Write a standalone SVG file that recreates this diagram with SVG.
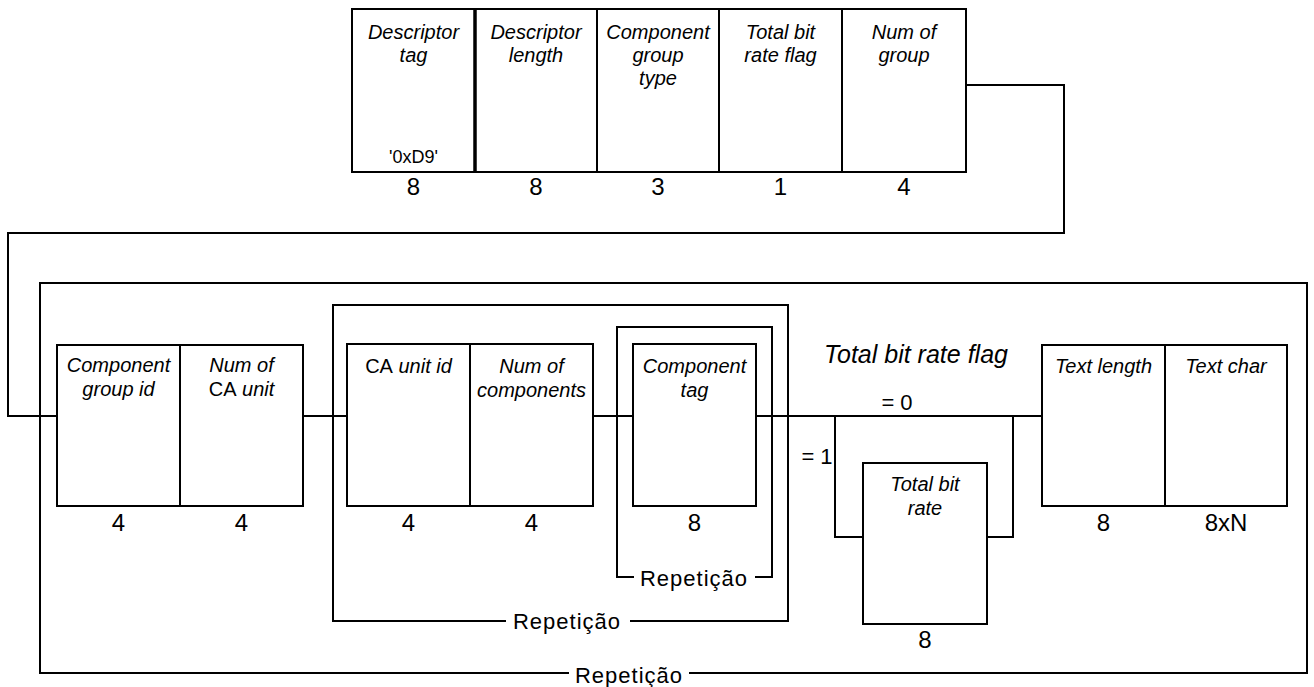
<svg xmlns="http://www.w3.org/2000/svg" width="1314" height="687" viewBox="0 0 1314 687">
<style>
  .box { fill: #fff; stroke: #000; stroke-width: 2; }
  .ln { fill: none; stroke: #000; stroke-width: 2; }
  .lbl { font-family: "Liberation Sans", Arial, sans-serif; font-size: 20px; font-style: italic; text-anchor: middle; fill: #000; }
  .up { font-style: normal; }
  .bits { font-family: "Liberation Sans", Arial, sans-serif; font-size: 24px; text-anchor: middle; fill: #000; }
  .rep { font-family: "Liberation Sans", Arial, sans-serif; font-size: 22px; letter-spacing: 1px; text-anchor: middle; fill: #000; }
  .flag { font-family: "Liberation Sans", Arial, sans-serif; font-size: 25px; font-style: italic; text-anchor: middle; fill: #000; }
  .eq { font-family: "Liberation Sans", Arial, sans-serif; font-size: 22px; text-anchor: middle; fill: #000; }
</style>
<rect width="1314" height="687" fill="#fff"/>

<g id="connectors">
  <polyline class="ln" points="966,85 1064,85 1064,233 8,233 8,416 57,416"/>
  <line class="ln" x1="303" y1="416" x2="347" y2="416"/>
  <line class="ln" x1="593" y1="416" x2="633" y2="416"/>
  <line class="ln" x1="756" y1="416" x2="1042" y2="416"/>
  <polyline class="ln" points="835,416 835,537 863,537"/>
  <polyline class="ln" points="987,537 1013,537 1013,416"/>
</g>

<g id="repeat-outer">
  <polyline class="ln" points="569,673 40,673 40,283 1307,283 1307,673 689,673"/>
  <text class="rep" x="629" y="683">Repetição</text>
</g>
<g id="repeat-middle">
  <polyline class="ln" points="506,621 333,621 333,305 788,305 788,621 630,621"/>
  <text class="rep" x="567" y="629">Repetição</text>
</g>
<g id="repeat-inner">
  <polyline class="ln" points="634,577 617,577 617,327 772,327 772,577 755,577"/>
  <text class="rep" x="694" y="586">Repetição</text>
</g>

<g id="descriptor-tag">
  <rect class="box" x="352" y="9" width="123" height="163"/>
  <text class="lbl" x="413.5" y="39">Descriptor</text>
  <text class="lbl" x="413.5" y="62">tag</text>
  <text class="lbl up" x="413.5" y="163" style="font-size:18px">'0xD9'</text>
  <text class="bits" x="413.5" y="195">8</text>
</g>
<g id="descriptor-length">
  <rect class="box" x="475" y="9" width="122" height="163"/>
  <line class="ln" x1="475" y1="9" x2="475" y2="172" style="stroke-width:3.5"/>
  <text class="lbl" x="536" y="39">Descriptor</text>
  <text class="lbl" x="536" y="62">length</text>
  <text class="bits" x="536" y="195">8</text>
</g>
<g id="component-group-type">
  <rect class="box" x="597" y="9" width="122" height="163"/>
  <text class="lbl" x="658" y="39">Component</text>
  <text class="lbl" x="658" y="62">group</text>
  <text class="lbl" x="658" y="85">type</text>
  <text class="bits" x="658" y="195">3</text>
</g>
<g id="total-bit-rate-flag">
  <rect class="box" x="719" y="9" width="123" height="163"/>
  <text class="lbl" x="780.5" y="39">Total bit</text>
  <text class="lbl" x="780.5" y="62">rate flag</text>
  <text class="bits" x="780.5" y="195">1</text>
</g>
<g id="num-of-group">
  <rect class="box" x="842" y="9" width="124" height="163"/>
  <text class="lbl" x="904" y="39">Num of</text>
  <text class="lbl" x="904" y="62">group</text>
  <text class="bits" x="904" y="195">4</text>
</g>

<g id="component-group-id">
  <rect class="box" x="57" y="345" width="123" height="161"/>
  <text class="lbl" x="118.5" y="372">Component</text>
  <text class="lbl" x="118.5" y="396">group id</text>
  <text class="bits" x="118.5" y="531">4</text>
</g>
<g id="num-of-ca-unit">
  <rect class="box" x="180" y="345" width="123" height="161"/>
  <text class="lbl" x="241.5" y="372">Num of</text>
  <text class="lbl" x="241.5" y="396"><tspan class="up">CA</tspan> unit</text>
  <text class="bits" x="241.5" y="531">4</text>
</g>
<g id="ca-unit-id">
  <rect class="box" x="347" y="344" width="123" height="162"/>
  <text class="lbl" x="408.5" y="373"><tspan class="up">CA</tspan> unit id</text>
  <text class="bits" x="408.5" y="531">4</text>
</g>
<g id="num-of-components">
  <rect class="box" x="470" y="344" width="123" height="162"/>
  <text class="lbl" x="531.5" y="373">Num of</text>
  <text class="lbl" x="531.5" y="397">components</text>
  <text class="bits" x="531.5" y="531">4</text>
</g>
<g id="component-tag">
  <rect class="box" x="633" y="344" width="123" height="162"/>
  <text class="lbl" x="694.5" y="373">Component</text>
  <text class="lbl" x="694.5" y="397">tag</text>
  <text class="bits" x="694.5" y="531">8</text>
</g>

<g id="flag-condition">
  <text class="flag" x="916" y="363">Total bit rate flag</text>
  <text class="eq" x="897" y="410">= 0</text>
  <text class="eq" x="817" y="464">= 1</text>
</g>
<g id="total-bit-rate">
  <rect class="box" x="863" y="463" width="124" height="161"/>
  <text class="lbl" x="925" y="491">Total bit</text>
  <text class="lbl" x="925" y="515">rate</text>
  <text class="bits" x="925" y="648">8</text>
</g>

<g id="text-length">
  <rect class="box" x="1042" y="345" width="123" height="161"/>
  <text class="lbl" x="1103.5" y="373">Text length</text>
  <text class="bits" x="1103.5" y="531">8</text>
</g>
<g id="text-char">
  <rect class="box" x="1165" y="345" width="122" height="161"/>
  <text class="lbl" x="1226" y="373">Text char</text>
  <text class="bits" x="1226" y="531">8xN</text>
</g>
</svg>
